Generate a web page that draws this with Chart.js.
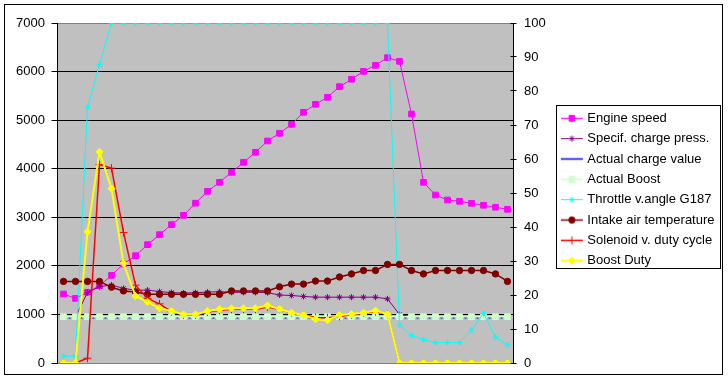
<!DOCTYPE html>
<html><head><meta charset="utf-8">
<script src="https://cdn.jsdelivr.net/npm/chart.js@4.4.1/dist/chart.umd.min.js"></script>
<style>html,body{margin:0;padding:0;background:#fff}canvas{display:block}</style>
</head><body>
<canvas id="c" width="728" height="379"></canvas>
<script>
const categories = ['1','2','3','4','5','6','7','8','9','10','11','12','13','14','15','16','17','18','19','20','21','22','23','24','25','26','27','28','29','30','31','32','33','34','35','36','37','38'];
const engineSpeed = [1420,1330,1456,1592,1805,2038,2210,2436,2642,2848,3040,3290,3534,3720,3926,4132,4338,4571,4729,4914,5161,5326,5470,5689,5841,6005,6128,6286,6211,5126,3720,3459,3356,3329,3288,3247,3206,3164];
const specChargePress = [953,953,1450,1571,1606,1535,1500,1500,1470,1450,1440,1447,1460,1468,1455,1455,1455,1447,1400,1390,1370,1355,1355,1355,1355,1355,1355,1320,1000,953,953,953,953,953,953,953,953,953];
const actualChargeValue = [930,930,930,930,930,930,930,930,930,930,930,930,930,930,930,930,930,930,930,930,930,930,930,930,930,930,930,930,930,930,930,930,930,930,930,930,930,930];
const actualBoost = [953,953,953,953,953,953,953,953,953,953,953,953,953,953,953,953,953,953,953,953,953,953,953,953,953,953,953,953,953,953,953,953,953,953,953,953,953,953];
const throttleAngle = [2,2,75.2,87.8,100,100,100,100,100,100,100,100,100,100,100,100,100,100,100,100,100,100,100,100,100,100,100,100,11.2,8.1,6.8,6,6,6,9.7,14.6,7.6,5.3];
const intakeAirTemp = [24,24,24,24,22.3,21.2,20.9,20.2,20.2,20.2,20.2,20.2,20.2,20.2,21.2,21.2,21.2,21.2,22.4,23.2,23.2,24.1,24.1,25.3,26.2,27.2,27.2,29,29,27.2,26.2,27.2,27.2,27.2,27.2,27.2,26.2,24];
const solenoidDuty = [0,0,1.4,58.4,57.3,38.4,22.9,19,17.4,15.1,14.1,14.1,15,15.5,15.8,15.8,15.8,16.5,15.8,14.7,14.1,13.4,13.3,13.7,14.2,14.7,15.1,14.3,0,0,0,0,0,0,0,0,0,0];
const boostDuty = [0,0,38.6,62.1,51.3,29.3,19.7,18,16.1,15.3,14.3,14.3,15.3,15.8,16.1,16.1,16.1,16.9,15.9,14.8,14.1,12.9,12.6,14.1,14.4,14.8,15.4,14.3,0,0,0,0,0,0,0,0,0,0];
const leftTicks = [0,1000,2000,3000,4000,5000,6000,7000];
const leftTickLabels = ['0','1000','2000','3000','4000','5000','6000','7000'];
const rightTicks = [0,10,20,30,40,50,60,70,80,90,100];
const rightTickLabels = ['0','10','20','30','40','50','60','70','80','90','100'];
const seriesNames = ['Engine speed','Specif. charge press.','Actual charge value','Actual Boost','Throttle v.angle G187','Intake air temperature','Solenoid v. duty cycle','Boost Duty'];

const FONT = "'Liberation Sans', Arial, sans-serif";
Chart.defaults.font.family = FONT;
Chart.defaults.font.size = 13;
Chart.defaults.color = '#000';

const styles = [
  {color:'#FF00FF', ps:'rect', r:4, lw:1},
  {color:'#800080', ps:'star', r:3, lw:1},
  {color:'#0000FF', ps:'line', r:2.5, lw:1.5, dash:[2,10], dashOff:7},
  {color:'#CCFFCC', ps:'rect', r:4, lw:1.5},
  {color:'#00FFFF', ps:'star', r:3, lw:1},
  {color:'#800000', ps:'circle', r:3.2, lw:1.5},
  {color:'#FF0000', ps:'cross', r:4, lw:1.5},
  {color:'#FFFF00', ps:'rectRot', r:3.6, lw:2}
];
const seriesData = [engineSpeed, specChargePress, actualChargeValue, actualBoost, throttleAngle, intakeAirTemp, solenoidDuty, boostDuty];
const seriesAxis = ['y','y','y','y','y2','y2','y2','y2'];

function makeIcon(st) {
  const cv = document.createElement('canvas');
  cv.width = 26; cv.height = 9;
  const c = cv.getContext('2d');
  c.strokeStyle = st.color; c.fillStyle = st.color;
  c.lineWidth = st.lw;
  c.beginPath(); c.moveTo(3, 4.5); c.lineTo(25, 4.5); c.stroke();
  c.lineWidth = 1;
  if (Chart.helpers && Chart.helpers.drawPoint) {
    Chart.helpers.drawPoint(c, {pointStyle: st.ps, radius: st.r, rotation: 0, borderWidth: 1}, 14, 4.5);
  } else {
    c.fillRect(11, 1.5, 6, 6);
  }
  return cv;
}
const icons = styles.map(makeIcon);

const datasets = seriesNames.map((name, i) => {
  const st = styles[i];
  return {
    label: name,
    data: seriesData[i],
    yAxisID: seriesAxis[i],
    borderColor: st.color,
    backgroundColor: st.color,
    borderWidth: st.lw,
    borderDash: st.dash || [],
    borderDashOffset: st.dashOff || 0,
    pointStyle: st.ps,
    pointRadius: st.r,
    pointHoverRadius: st.r,
    pointBackgroundColor: st.color,
    pointBorderColor: st.color,
    pointBorderWidth: 1,
    tension: 0,
    fill: false,
    order: -i
  };
});

const framePlugin = {
  id: 'frame',
  afterLayout(chart) {
    const lg = chart.legend;
    if (lg) {
      lg.left = 553.5; lg.right = 719.5; lg.width = 166;
      lg.top = 23; lg.bottom = 356; lg.height = 333;
    }
  },
  beforeDraw(chart) {
    const c = chart.ctx, a = chart.chartArea;
    c.save();
    c.fillStyle = '#FFFFFF';
    c.fillRect(0, 0, chart.width, chart.height);
    c.fillStyle = '#C0C0C0';
    c.fillRect(a.left, a.top, a.right - a.left, a.bottom - a.top);
    c.restore();
  },
  afterDraw(chart) {
    const c = chart.ctx, a = chart.chartArea;
    c.save();
    c.strokeStyle = '#000';
    c.lineWidth = 1;
    c.strokeRect(4.5, 4.5, 718, 370);
    c.strokeRect(556.5, 105.5, 164, 163);
    const y2 = chart.scales.y2;
    c.beginPath();
    rightTicks.forEach(v => {
      const py = Math.round(y2.getPixelForValue(v) - 0.5) + 0.5;
      c.moveTo(a.right - 3, py); c.lineTo(a.right, py);
    });
    c.stroke();
    c.restore();
  }
};

new Chart(document.getElementById('c'), {
  type: 'line',
  data: { labels: categories, datasets },
  options: {
    responsive: false,
    animation: false,
    devicePixelRatio: 1,
    layout: { padding: { top: 23, bottom: 16, left: 0, right: 8.5 } },
    plugins: {
      tooltip: { enabled: false },
      legend: {
        position: 'right',
        maxWidth: 166,
        labels: {
          usePointStyle: true,
          pointStyleWidth: 20,
          padding: 7.34,
          font: { family: FONT, size: 13 },
          color: '#000',
          sort: (a, b) => a.datasetIndex - b.datasetIndex,
          generateLabels(chart) {
            const items = Chart.defaults.plugins.legend.labels.generateLabels(chart);
            items.forEach(it => { it.pointStyle = icons[it.datasetIndex]; it.fontColor = '#000'; });
            return items;
          }
        }
      }
    },
    scales: {
      x: { type: 'category', display: false, offset: true },
      y: {
        position: 'left',
        min: 0, max: 7000,
        afterFit: s => { s.width = 57.5; },
        afterBuildTicks: s => { s.ticks = leftTicks.map(v => ({ value: v })); },
        ticks: { padding: 6.5, font: { family: FONT, size: 13 }, color: '#000',
                 callback: (v, i) => leftTickLabels[i] },
        grid: {
          color: ctx => (ctx.tick && (ctx.tick.value === 0 || ctx.tick.value === 7000)) ? '#808080' : '#000000',
          tickColor: '#000', tickLength: 6, drawTicks: true, lineWidth: 1
        },
        border: { display: true, color: '#000', width: 1 }
      },
      y2: {
        position: 'right',
        min: 0, max: 100,
        afterFit: s => { s.width = 40; },
        afterBuildTicks: s => { s.ticks = rightTicks.map(v => ({ value: v })); },
        ticks: { padding: 7.5, font: { family: FONT, size: 13 }, color: '#000',
                 callback: (v, i) => rightTickLabels[i] },
        grid: { drawOnChartArea: false, drawTicks: true, tickLength: 3, tickColor: '#000', color: '#000' },
        border: { display: true, color: '#000', width: 1 }
      }
    }
  },
  plugins: [framePlugin]
});
</script>
</body></html>
